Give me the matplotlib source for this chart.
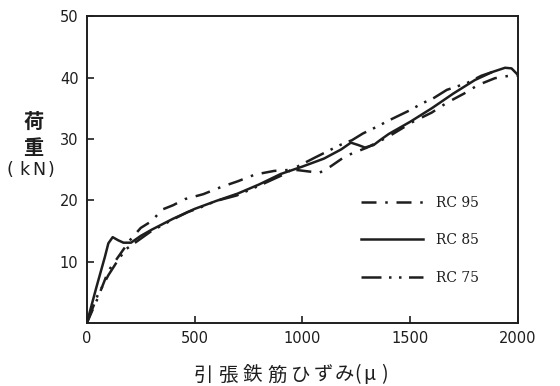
import numpy as np
import matplotlib
matplotlib.use("Agg")
import matplotlib.pyplot as plt

plt.rcParams['font.family'] = ['DejaVu Sans']

# strain (micro) / load (kN)
rc95_x = [0, 50, 100, 150, 200, 250, 300, 350, 400, 455, 540, 625, 700, 780, 870, 960,
          1030, 1080, 1130, 1200, 1250, 1300, 1400, 1513, 1600, 1670, 1750, 1815, 1893, 1960, 2000]
rc95_y = [0, 4, 8.5, 11, 13.5, 15.5, 16.6, 18.5, 19.2, 20.2, 21, 22.2, 23.1, 24.2, 24.8, 25,
          24.7, 24.5, 25.5, 27.2, 27.9, 28.6, 30.4, 32.8, 34.3, 35.9, 37.4, 38.8, 39.9, 40.3, 40.3]

rc85_x = [0, 45, 84, 100, 120, 145, 170, 205, 250, 300, 400, 500, 600, 700, 800, 900, 1000,
          1100, 1180, 1225, 1260, 1290, 1330, 1360, 1400, 1500, 1600, 1700, 1800, 1880, 1940,
          1970, 1995]
rc85_y = [0, 5.9, 10.8, 13, 14, 13.5, 13.1, 13.1, 14.2, 15.2, 17, 18.6, 19.9, 21.1, 22.6, 24.3,
          25.5, 26.8, 28.3, 29.4, 29, 28.6, 29, 29.8, 30.8, 32.8, 35, 37.4, 39.6, 40.9, 41.6,
          41.5, 40.6]

rc75_x = [0, 50, 100, 140, 180, 220, 300, 400, 469, 524, 600, 696, 800, 900, 960, 1060, 1174,
          1230, 1281, 1346, 1400, 1500, 1555, 1606, 1670, 1763, 1830, 1880]
rc75_y = [0, 4.5, 7.8, 10, 12, 13, 15, 16.9, 18.1, 18.8, 19.9, 20.8, 22.4, 24, 25.2, 27, 29,
          29.8, 30.9, 32, 33, 34.7, 35.8, 36.6, 38, 39.1, 40.3, 40.9]

x_ticks = [0, 500, 1000, 1500, 2000]
y_ticks = [10, 20, 30, 40, 50]

xlabel_chars = ['引', '張', '鉄', '筋', 'ひ', 'ず', 'み', '(', 'μ', ')']
xlabel_px = [203, 228, 252, 277, 301, 323, 344, 358, 369, 384]
ylabel_unit = ['(', 'k', 'N', ')']
ylabel_unit_px = [10, 24, 39, 51]

ink = '#1e1e1e'
W, H = 560, 386

fig = plt.figure(figsize=(5.6, 3.86), dpi=100)
ax = fig.add_axes([0.155, 0.163, 0.77, 0.795])

lw = 1.8
l95, = ax.plot(rc95_x, rc95_y, color=ink, lw=lw, dashes=(6, 3.5, 1, 3.5), label='RC 95')
l85, = ax.plot(rc85_x, rc85_y, color=ink, lw=lw, label='RC 85')
l75, = ax.plot(rc75_x, rc75_y, color=ink, lw=lw, dashes=(8, 3, 1, 3, 1, 3), label='RC 75')

ax.set_xlim(0, 2000)
ax.set_ylim(0, 50)
ax.set_xticks(x_ticks)
ax.set_yticks(y_ticks)
ax.tick_params(direction='in', length=5, width=1.2, colors=ink, labelsize=10.5, pad=6)
for s in ax.spines.values():
    s.set_linewidth(1.4)
    s.set_color(ink)

leg = ax.legend(handles=[l95, l85, l75], loc='center left', bbox_to_anchor=(0.635, 0.27),
                frameon=False, handlelength=4.5, handletextpad=0.9, labelspacing=1.7,
                borderpad=0, borderaxespad=0,
                prop={'family': 'DejaVu Serif', 'size': 10})
for t in leg.get_texts():
    t.set_color(ink)

cjk = ['Noto Sans CJK JP', 'DejaVu Sans']
fig.text(33.5 / W, 1 - 121 / H, '荷', family=cjk, fontsize=14.5, weight='bold',
         ha='center', va='center', color=ink)
fig.text(33.5 / W, 1 - 147 / H, '重', family=cjk, fontsize=14.5, weight='bold',
         ha='center', va='center', color=ink)
for ch, px in zip(ylabel_unit, ylabel_unit_px):
    fig.text(px / W, 1 - 170 / H, ch, fontsize=12.5, ha='center', va='center', color=ink)

for ch, px in zip(xlabel_chars, xlabel_px):
    style = 'italic' if ch == 'μ' else 'normal'
    fig.text(px / W, 1 - 375 / H, ch, family=cjk, fontsize=14, style=style,
             ha='center', va='center', color=ink)

fig.savefig('out.png', dpi=100)
